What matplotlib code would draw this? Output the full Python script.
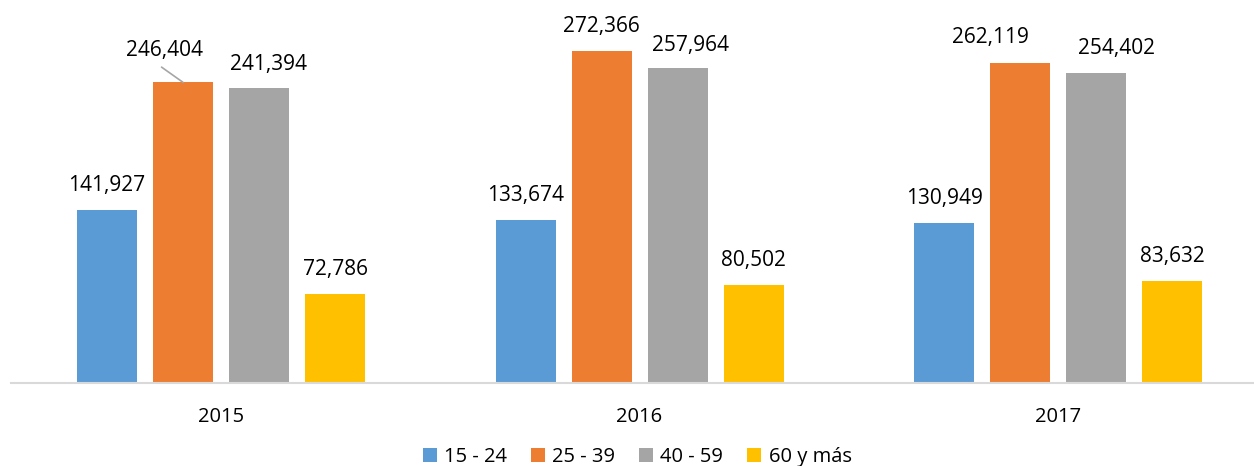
import numpy as np
import matplotlib.pyplot as plt

plt.rcParams['font.family'] = ['Open Sans', 'DejaVu Sans']

years = ['2015', '2016', '2017']
groups = ['15 - 24', '25 - 39', '40 - 59', '60 y más']
values = {
    '15 - 24': [141927, 133674, 130949],
    '25 - 39': [246404, 272366, 262119],
    '40 - 59': [241394, 257964, 254402],
    '60 y más': [72786, 80502, 83632],
}
colors = ['#5B9BD5', '#ED7D31', '#A5A5A5', '#FFC000']

# label nudges (points) where the labels were moved apart in the original
nudge = {(1, 0): (-13.7, 23), (2, 0): (7, 17.5), (2, 1): (9.5, 16.5),
         (1, 2): (-21, 18.5), (2, 2): (14.5, 17.5)}

fig = plt.figure(figsize=(12.54, 4.66), dpi=100)
ax = fig.add_axes([11/1254, 1 - 383/466, 1242/1254, 366/466])

x = np.arange(len(years))
width = 0.1434
step = 0.1816

for i, g in enumerate(groups):
    pos = x + (i - 1.5) * step
    ax.bar(pos, values[g], width, color=colors[i], label=g, zorder=2)
    for j, (px, v) in enumerate(zip(pos, values[g])):
        off = nudge.get((i, j), (0, 17.5))
        ax.annotate(f'{v:,}', (px, v), xytext=off, textcoords='offset points',
                    ha='center', va='center', fontsize=15, color='#000000')
        if (i, j) == (1, 0):
            # leader line from the moved label back to its bar
            ax.annotate('', (px, v), xytext=(-15.5, 11), textcoords='offset points',
                        arrowprops=dict(arrowstyle='-', color='#A6A6A6', lw=1.2,
                                        shrinkA=0, shrinkB=0))

ax.set_xlim(-0.502, 2.466)
ax.set_ylim(0, 300000)
ax.set_xticks(x)
ax.set_xticklabels(years, fontsize=14.5)
ax.tick_params(axis='x', length=0, pad=17)
ax.set_yticks([])
for s in ['top', 'right', 'left']:
    ax.spines[s].set_visible(False)
ax.spines['bottom'].set_color('#D9D9D9')
ax.spines['bottom'].set_linewidth(1.5)

fig.legend(loc='lower center', bbox_to_anchor=(0.508, -0.042), ncol=4, frameon=False,
           fontsize=14.5, handlelength=0.7, handleheight=0.7, handletextpad=0.35,
           columnspacing=1.2)

fig.savefig('out.png', dpi=100)
